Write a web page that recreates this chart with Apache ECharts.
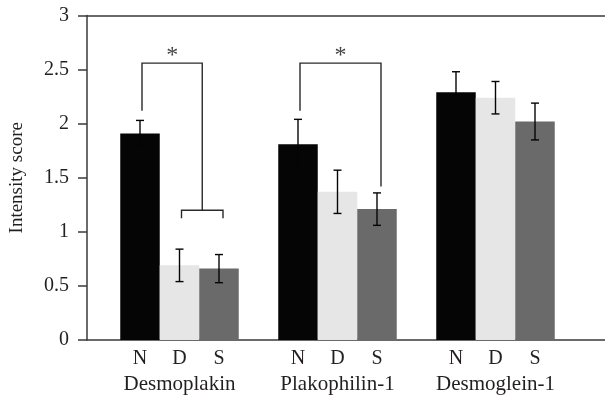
<!DOCTYPE html>
<html>
<head>
<meta charset="utf-8">
<script src="https://cdn.jsdelivr.net/npm/echarts@6/dist/echarts.min.js"></script>
<style>
html,body{margin:0;padding:0;background:#fff;}
#chart{width:605px;height:396px;}
</style>
</head>
<body>
<div id="chart"></div>
<script>
// ---- data ----
const categories = ['Desmoplakin', 'Plakophilin-1', 'Desmoglein-1'];
const groups = ['N', 'D', 'S'];
const meanN = [1.91, 1.81, 2.29];
const meanD = [0.69, 1.37, 2.24];
const meanS = [0.66, 1.21, 2.02];
const errN = [0.12, 0.23, 0.19];
const errD = [0.15, 0.20, 0.15];
const errS = [0.13, 0.15, 0.17];
const yMin = 0, yMax = 3, yStep = 0.5;
const yTitle = 'Intensity score';
// significance brackets
const bracketCat = [0, 1];
const bracketTop = [2.56, 2.56];
const bracketLeftEnd = [2.12, 2.12];
const bracketRightEnd = [1.20, 1.42];
const bracketRightBars = [['D', 'S'], ['S']];
const bracketLabel = ['*', '*'];

// ---- styling ----
const FONT = 'Liberation Serif';
const TXT = '#231f20';
const colors = { N: '#050505', D: '#e6e6e6', S: '#6a6a6a' };
const BW = 39.5;
const means = { N: meanN, D: meanD, S: meanS };
const errs = { N: errN, D: errD, S: errS };

const chart = echarts.init(document.getElementById('chart'), null, { renderer: 'canvas' });

const barSeries = groups.map(g => ({
  type: 'bar', name: g, xAxisIndex: 0, yAxisIndex: 0,
  data: means[g], barWidth: BW, barGap: '0%',
  itemStyle: { color: colors[g] }, silent: true, z: 2
}));

const errSeries = groups.map((g, k) => ({
  type: 'custom', xAxisIndex: 0, yAxisIndex: 0, z: 5, silent: true,
  data: means[g].map((m, i) => [i, m - errs[g][i], m + errs[g][i]]),
  renderItem: function (params, api) {
    const cx = api.coord([api.value(0), 0])[0] + (k - 1) * BW;
    const lo = api.coord([api.value(0), api.value(1)])[1];
    const hi = api.coord([api.value(0), api.value(2)])[1];
    const c = 4;
    const st = { stroke: '#050505', lineWidth: 1.4 };
    return { type: 'group', children: [
      { type: 'line', shape: { x1: cx, y1: lo, x2: cx, y2: hi }, style: st },
      { type: 'line', shape: { x1: cx - c, y1: lo, x2: cx + c, y2: lo }, style: st },
      { type: 'line', shape: { x1: cx - c, y1: hi, x2: cx + c, y2: hi }, style: st }
    ]};
  }
}));

const bracketSeries = {
  type: 'custom', xAxisIndex: 0, yAxisIndex: 0, z: 6, silent: true,
  data: bracketCat.map((c, i) => [c, bracketTop[i], bracketLeftEnd[i], bracketRightEnd[i], i]),
  renderItem: function (params, api) {
    const i = api.value(4);
    const cat = api.value(0);
    const center = api.coord([cat, 0])[0];
    const pos = { N: center - BW + 2, D: center + 2, S: center + BW + 4 };
    const yTop = api.coord([cat, api.value(1)])[1];
    const yL = api.coord([cat, api.value(2)])[1];
    const yR = api.coord([cat, api.value(3)])[1];
    const st = { stroke: '#2a2a2a', lineWidth: 1.4, fill: null };
    const xl = pos.N;
    const rb = bracketRightBars[i];
    const children = [];
    let xr;
    if (rb.length > 1) {
      const a = pos[rb[0]], b = pos[rb[rb.length - 1]];
      xr = (a + b) / 2;
      children.push({ type: 'polyline', shape: { points: [[a, yR + 8], [a, yR], [b, yR], [b, yR + 8]] }, style: st });
    } else {
      xr = pos[rb[0]];
    }
    children.push({ type: 'polyline', shape: { points: [[xl, yL], [xl, yTop], [xr, yTop], [xr, yR]] }, style: st });
    children.push({ type: 'text', style: { text: bracketLabel[i], x: (xl + xr) / 2, y: yTop + 5,
      align: 'center', verticalAlign: 'bottom', font: '24px "' + FONT + '"', fill: '#444' } });
    return { type: 'group', children };
  }
};

const option = {
  animation: false,
  backgroundColor: '#fff',
  grid: [
    { left: 100.5, width: 474, top: 15.5, bottom: 56 },
    { left: 81, right: 0, top: 15.5, bottom: 56 }
  ],
  xAxis: [
    { type: 'category', gridIndex: 0, data: categories,
      axisLine: { show: false }, axisTick: { show: false },
      axisLabel: {
        margin: 7, interval: 0,
        formatter: function (v) {
          return groups.map(g => '{' + g + '|' + g + '}').join('') + '\n{n|' + v + '}';
        },
        rich: {
          N: { width: BW, align: 'center', fontFamily: FONT, fontSize: 20, color: TXT, lineHeight: 24 },
          D: { width: BW, align: 'center', fontFamily: FONT, fontSize: 20, color: TXT, lineHeight: 24 },
          S: { width: BW, align: 'center', fontFamily: FONT, fontSize: 20, color: TXT, lineHeight: 24 },
          n: { fontFamily: FONT, fontSize: 21, color: TXT, lineHeight: 26, align: 'center' }
        }
      },
      splitLine: { show: false } },
    { type: 'value', gridIndex: 1, min: 0, max: 1, position: 'bottom',
      axisLine: { show: true, onZero: false, lineStyle: { color: '#3a3a3a', width: 1.5 } },
      axisTick: { show: false }, axisLabel: { show: false }, splitLine: { show: false } },
    { type: 'value', gridIndex: 1, min: 0, max: 1, position: 'top',
      axisLine: { show: true, onZero: false, lineStyle: { color: '#3a3a3a', width: 1.5 } },
      axisTick: { show: false }, axisLabel: { show: false }, splitLine: { show: false } }
  ],
  yAxis: [
    { type: 'value', gridIndex: 0, min: yMin, max: yMax, interval: yStep, show: false },
    { type: 'value', gridIndex: 1, min: yMin, max: yMax, interval: yStep,
      name: yTitle, nameLocation: 'middle', nameGap: 60,
      nameTextStyle: { fontFamily: FONT, fontSize: 19, color: TXT },
      axisLine: { show: true, onZero: false, lineStyle: { color: '#3a3a3a', width: 1.5 } },
      axisTick: { show: true, inside: false, length: 9, lineStyle: { color: '#3a3a3a', width: 1.5 } },
      axisLabel: { margin: 18, fontFamily: FONT, fontSize: 20, color: TXT },
      splitLine: { show: false } }
  ],
  series: barSeries.concat(errSeries, [bracketSeries])
};
chart.setOption(option);
</script>
</body>
</html>
